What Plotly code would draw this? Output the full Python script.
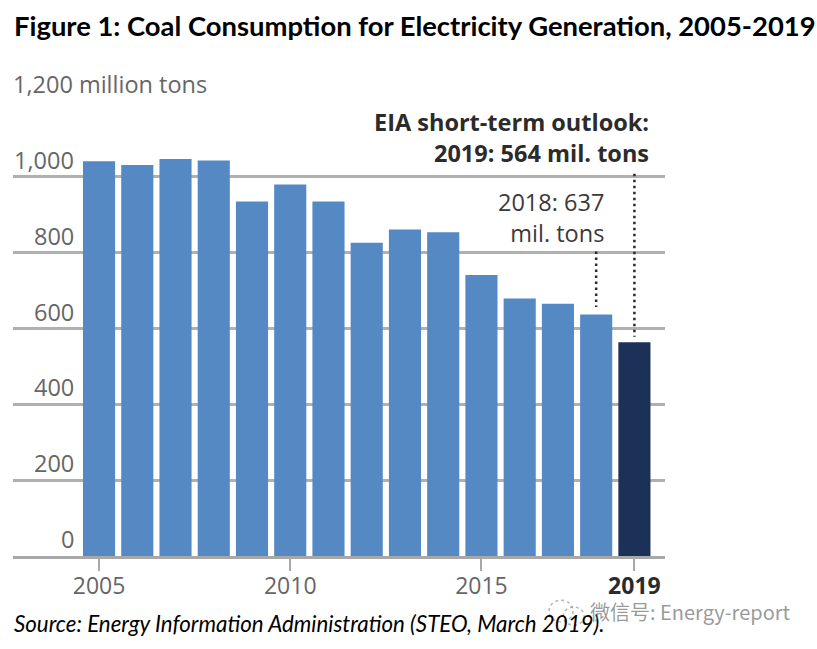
import plotly.graph_objects as go

# Values (million tons)
years = list(range(2005, 2020))
coal = [1041, 1031, 1047, 1043, 935, 980, 935, 826, 861, 854, 741, 679, 665, 637, 564]
bar_colors = ["#5589c3"] * 14 + ["#1c3158"]

y_ticks = [0, 200, 400, 600, 800, 1000, 1200]
y_labels = ["0", "200", "400", "600", "800", "1,000", "1,200 million tons"]
x_ticks = [2005, 2010, 2015, 2019]
x_labels = ["2005", "2010", "2015", "<b><span style='color:#2b2b2b'>2019</span></b>"]

leader_years = [2018, 2019]
leader_top = [803, 1008]
leader_bottom = [657, 578]

fig = go.Figure()
fig.add_trace(go.Bar(x=years, y=coal, marker_color=bar_colors, marker_line_width=0, width=0.84))

for yr, top, bottom in zip(leader_years, leader_top, leader_bottom):
    fig.add_trace(go.Scatter(x=[yr, yr], y=[top, bottom], mode="lines",
                             line=dict(color="#2b2b2b", width=2.5, dash="2.5px,3.5px")))

# y labels sit on top of the gridlines, not beside them
for val, lab in zip(y_ticks, y_labels):
    if val == 1200:
        fig.add_annotation(x=-0.003, xref="paper", y=val, text=lab, showarrow=False,
                           xanchor="left", yanchor="bottom", yshift=-1,
                           font=dict(size=23.5, color="#666666", family="Open Sans"))
    else:
        fig.add_annotation(x=0.0966, xref="paper", y=val, text=lab, showarrow=False,
                           xanchor="right", yanchor="bottom", yshift=-1,
                           font=dict(size=23.5, color="#666666", family="Open Sans"))

fig.add_annotation(x=0.978, xref="paper", y=1193, yanchor="top", xanchor="right", align="right",
                   text="<b>EIA short-term outlook:<br>2019: 564 mil. tons</b>", showarrow=False,
                   font=dict(size=23.5, color="#2b2b2b", family="Open Sans"))
fig.add_annotation(x=2018.25, y=982, yanchor="top", xanchor="right", align="right",
                   text="2018: 637<br>mil. tons", showarrow=False,
                   font=dict(size=23.5, color="#3a3a3a", family="Open Sans"))

fig.add_annotation(text="<b>Figure 1: Coal Consumption for Electricity Generation, 2005-2019</b>",
                   xref="paper", yref="paper", x=-0.002, y=1.165, xanchor="left", yanchor="middle",
                   showarrow=False, font=dict(size=27.4, color="black", family="Lato"))
fig.add_annotation(text="<i>Source: Energy Information Administration (STEO, March 2019).</i>",
                   xref="paper", yref="paper", x=-0.002, y=-0.149, xanchor="left", yanchor="middle",
                   showarrow=False, font=dict(size=22.3, color="black", family="Lato"))
fig.add_annotation(text="微信号: Energy-report", xref="paper", yref="paper", x=1.197, y=-0.121,
                   xanchor="right", yanchor="middle", showarrow=False,
                   font=dict(size=20, color="rgba(120,120,120,0.75)", family="Noto Sans CJK SC"))

# wechat logo of the watermark
fig.add_shape(type="circle", xref="paper", yref="paper", x0=0.822, x1=0.859, y0=-0.145, y1=-0.097,
              line=dict(color="rgba(150,150,150,0.7)", width=1.5, dash="dot"))
fig.add_shape(type="circle", xref="paper", yref="paper", x0=0.844, x1=0.876, y0=-0.152, y1=-0.112,
              line=dict(color="rgba(150,150,150,0.7)", width=1.5, dash="dot"))

fig.update_layout(
    width=817, height=649, autosize=False, showlegend=False,
    margin=dict(l=13, r=152, t=101, b=93),
    paper_bgcolor="white", plot_bgcolor="white",
    xaxis=dict(range=[2002.75, 2019.8], tickvals=x_ticks, ticktext=x_labels, ticks="outside",
               ticklen=12, tickwidth=2, tickcolor="#a8a8a8", showgrid=False, ticklabelstandoff=-4,
               showline=True, linecolor="#a8a8a8", linewidth=2.5, zeroline=False,
               tickfont=dict(size=23, color="#666666", family="Open Sans")),
    yaxis=dict(range=[0, 1200], tickvals=y_ticks, showticklabels=False, showgrid=True,
               gridcolor="#b0b0b0", gridwidth=2.5, zeroline=False),
)

# page default body margin would push the chart 8px in
fig.write_html("out.html", config=dict(displayModeBar=False),
               post_script="document.body.style.margin='0';")
